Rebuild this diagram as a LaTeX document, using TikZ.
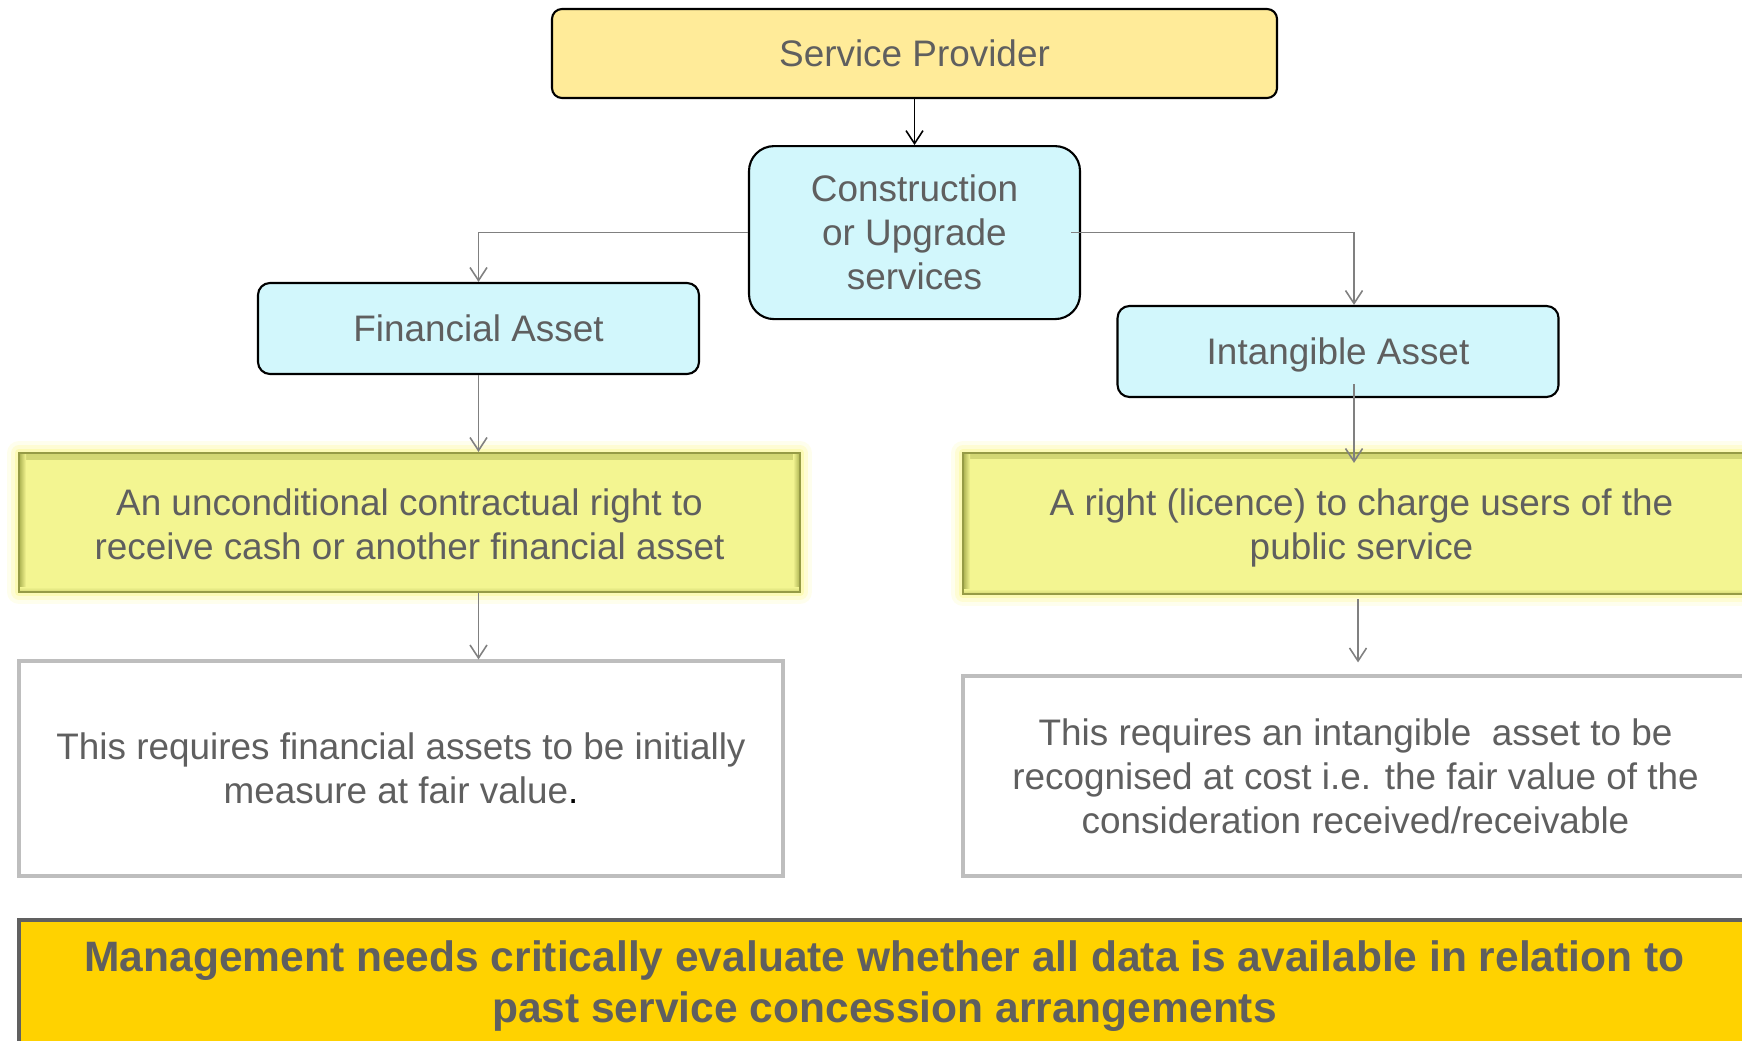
\documentclass[tikz,border=0pt]{standalone}
\usepackage{fontspec}
\setmainfont{Liberation Sans}
\usetikzlibrary{arrows.meta,positioning}
\definecolor{TextGray}{RGB}{95,95,95}
\definecolor{SoftGold}{RGB}{255,235,153}
\definecolor{SoftCyan}{RGB}{210,247,252}
\definecolor{PaleLime}{RGB}{243,245,145}
\definecolor{OliveEdge}{RGB}{150,155,70}
\definecolor{BevelDark}{RGB}{170,176,80}
\definecolor{BevelMid}{RGB}{210,214,115}
\definecolor{GlowYellow}{RGB}{250,245,110}
\definecolor{FrameGray}{RGB}{190,190,190}
\definecolor{NoteGold}{RGB}{255,210,0}
\definecolor{NoteFrame}{RGB}{96,96,96}
\definecolor{LinkGray}{RGB}{128,128,128}
\newcommand{\lowered}[2]{\raisebox{-#1}[\height][\depth]{\begin{tabular}{@{}c@{}}#2\end{tabular}}}
\tikzset{
  basefont/.style={font=\fontsize{10.5}{12.5}\selectfont,text=TextGray,
    align=center,inner sep=0pt},
  provider/.style={basefont,draw=black,rounded corners=0.1cm,fill=SoftGold,
    line width=0.6pt,minimum width=7.25cm,minimum height=0.89cm},
  service/.style={basefont,draw=black,rounded corners=0.25cm,fill=SoftCyan,
    line width=0.6pt,minimum width=3.31cm,minimum height=1.73cm},
  asset/.style={basefont,draw=black,rounded corners=0.12cm,fill=SoftCyan,
    line width=0.6pt,minimum width=4.41cm,minimum height=0.91cm},
  rightbox/.style={basefont,draw=OliveEdge,fill=PaleLime,line width=0.6pt,
    preaction={draw=GlowYellow,line width=7pt,opacity=0.12,line join=round},
    preaction={draw=GlowYellow,line width=4.5pt,opacity=0.2,line join=round},
    preaction={draw=GlowYellow,line width=2.5pt,opacity=0.3,line join=round},
    path picture={
      \shade[top color=BevelMid,bottom color=PaleLime]
        (path picture bounding box.north west) rectangle
        ([yshift=-0.06cm]path picture bounding box.north east);
      \shade[left color=BevelDark,right color=PaleLime]
        (path picture bounding box.north west) rectangle
        ([xshift=0.07cm]path picture bounding box.south west);
      \shade[left color=PaleLime,right color=BevelDark]
        ([xshift=-0.07cm]path picture bounding box.north east) rectangle
        (path picture bounding box.south east);
      \shade[top color=PaleLime,bottom color=BevelMid]
        ([yshift=0.05cm]path picture bounding box.south west) rectangle
        (path picture bounding box.south east);}},
  measure/.style={basefont,draw=FrameGray,fill=white,line width=0.9pt},
  note/.style={basefont,font=\fontsize{12.1}{14.5}\selectfont\bfseries,
    draw=NoteFrame,fill=NoteGold,line width=1.1pt},
  link/.style={-{Straight Barb[length=0.13cm,width=0.17cm]},LinkGray,
    line width=0.45pt}
}

\begin{document}
\begin{tikzpicture}[node distance=0.46cm]
  \useasboundingbox (0,0) rectangle (17.42,-10.40);
  \node[provider] (provider) at (9.145,-0.535) {Service Provider};
  \node[service,below=of provider] (upgrade) {Construction\\or Upgrade\\services};
  \node[asset] (financial) at (4.785,-3.285) {Financial Asset};
  \node[asset] (intangible) at (13.38,-3.515) {\lowered{0.4mm}{Intangible Asset}};
  \node[rightbox,minimum width=7.81cm,minimum height=1.39cm] (cashright) at (4.095,-5.225)
    {\lowered{0.65mm}{An unconditional contractual right to\\receive cash or another financial asset}};
  \node[rightbox,minimum width=7.97cm,minimum height=1.41cm] (licence) at (13.615,-5.235)
    {\lowered{0.55mm}{A right (licence) to charge users of the\\public service}};
  \node[measure,minimum width=7.64cm,minimum height=2.15cm] (fairvalue) at (4.01,-7.685)
    {This requires financial assets to be initially\\measure at fair value{\color{black}.}};
  \node[measure,minimum width=7.85cm,minimum height=2.0cm] (atcost) at (13.555,-7.76)
    {This requires an intangible\ \ asset to be\\recognised at cost i.e. the fair value of the\\consideration received/receivable};
  \node[note,minimum width=17.31cm,minimum height=1.26cm] (mgmt) at (8.845,-9.83)
    {\lowered{0.35mm}{Management needs critically evaluate whether all data is available in relation to\\past service concession arrangements}};

  \draw[link,black] (provider) -- (upgrade);
  \draw[link] (upgrade.west) -| (financial.north);
  \draw[link] ([xshift=-0.1cm]upgrade.east) -| ([xshift=0.16cm]intangible.north);
  \draw[link] (financial.south) -- (financial.south |- cashright.north);
  \draw[link] ([xshift=0.16cm,yshift=0.14cm]intangible.south)
    -- ([xshift=0.16cm,yshift=-0.11cm]intangible.south |- licence.north);
  \draw[link] (financial.south |- cashright.south) -- (financial.south |- fairvalue.north);
  \draw[link] ([xshift=0.2cm,yshift=-0.04cm]intangible.south |- licence.south)
    -- ([xshift=0.2cm,yshift=0.12cm]intangible.south |- atcost.north);
\end{tikzpicture}
\end{document}
